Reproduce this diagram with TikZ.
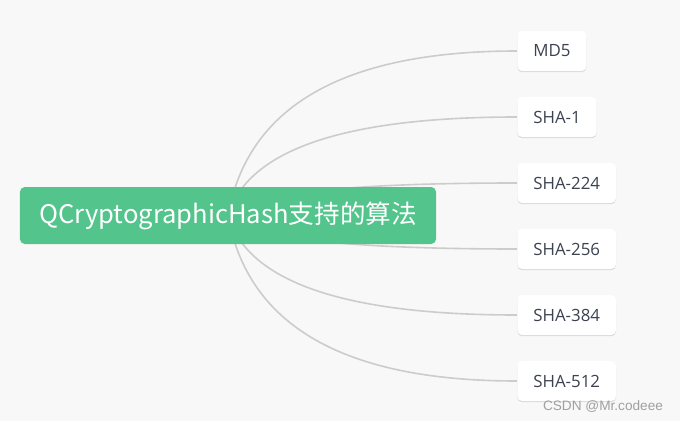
\documentclass[tikz,border=0pt]{standalone}
\usepackage{fontspec}
\setmainfont{Open Sans}
\newfontfamily\cjk{Noto Sans CJK SC}
\newfontfamily\wmfont{Liberation Sans}
\usetikzlibrary{calc,shadows}
\pgfdeclarelayer{bg}
\pgfsetlayers{bg,main}
\definecolor{pagebg}{RGB}{248,248,248}
\definecolor{rootgreen}{RGB}{82,196,140}
\definecolor{wiregray}{RGB}{204,204,204}
\definecolor{leaftext}{RGB}{60,66,80}
\definecolor{stampgray}{RGB}{160,160,160}
\tikzstyle{root}=[fill=rootgreen, text=white, rounded corners=1.2mm, minimum width=104mm, minimum height=14.25mm, inner sep=0pt, font=\cjk\fontsize{18.2}{21}\selectfont]
\tikzstyle{leaf}=[fill=white, text=leaftext, anchor=west, rounded corners=1.2mm, minimum height=10mm, inner xsep=4mm, inner ysep=0pt, font=\fontsize{12}{14}\selectfont, drop shadow={shadow xshift=0pt, shadow yshift=-0.3mm, opacity=0.12, fill=black}]
\tikzstyle{wire}=[-, draw=wiregray, line width=0.4mm]
\tikzstyle{stamp}=[text=stampgray, inner sep=0pt, font=\wmfont\fontsize{9.7}{11}\selectfont]

\begin{document}
\begin{tikzpicture}[x=0.25mm, y=-0.25mm]
    \useasboundingbox (0, 0) rectangle (680, 421);

    \node [root] (hash) at (228, 215.5) {QCryptographicHash支持的算法};

    \node [leaf] (md5) at (517, 51) {MD5};
    \node [leaf] (sha1) at (517, 117) {SHA-1};
    \node [leaf] (sha224) at (517, 183) {SHA-224};
    \node [leaf] (sha256) at (517, 249) {SHA-256};
    \node [leaf] (sha384) at (517, 315) {SHA-384};
    \node [leaf] (sha512) at (517, 381) {SHA-512};

    \node [stamp] (csdn) at (603, 406) {CSDN @Mr.codeee};

    \begin{pgfonlayer}{bg}
        \fill [pagebg] (0, 0) rectangle (680, 421);
        \draw [wire] (hash.center) .. controls ($(hash.center)!.667!(md5.west) + (-173, 0)$) and ($(md5.west) + (-173, 0)$) .. (md5.west);
        \draw [wire] (hash.center) .. controls ($(hash.center)!.667!(sha1.west) + (-173, 0)$) and ($(sha1.west) + (-173, 0)$) .. (sha1.west);
        \draw [wire] (hash.center) .. controls ($(hash.center)!.667!(sha224.west) + (-173, 0)$) and ($(sha224.west) + (-173, 0)$) .. (sha224.west);
        \draw [wire] (hash.center) .. controls ($(hash.center)!.667!(sha256.west) + (-173, 0)$) and ($(sha256.west) + (-173, 0)$) .. (sha256.west);
        \draw [wire] (hash.center) .. controls ($(hash.center)!.667!(sha384.west) + (-173, 0)$) and ($(sha384.west) + (-173, 0)$) .. (sha384.west);
        \draw [wire] (hash.center) .. controls ($(hash.center)!.667!(sha512.west) + (-173, 0)$) and ($(sha512.west) + (-173, 0)$) .. (sha512.west);
    \end{pgfonlayer}
\end{tikzpicture}
\end{document}
